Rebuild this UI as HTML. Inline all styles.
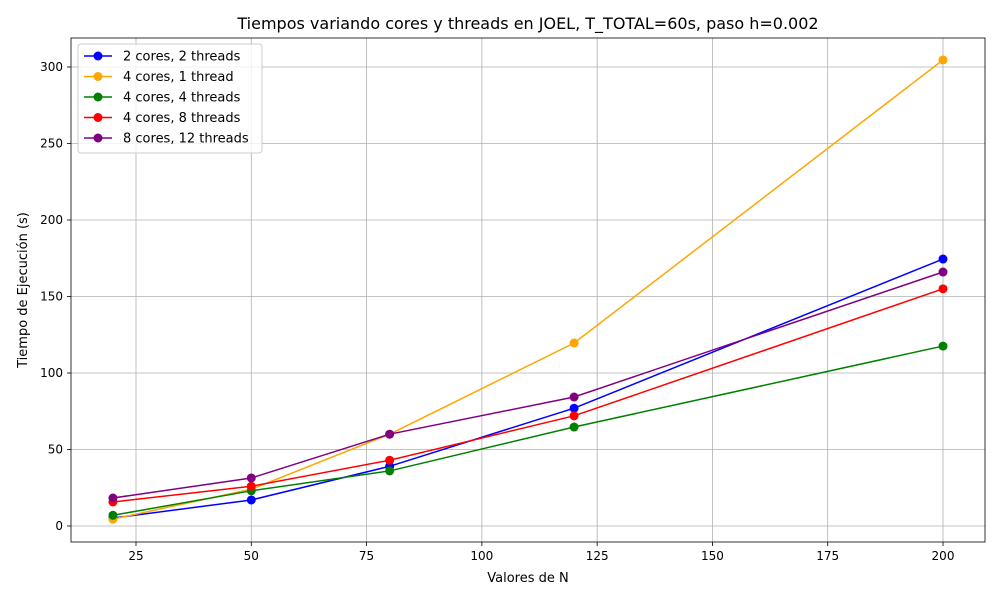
<!DOCTYPE html>
<html><head><meta charset="utf-8"><style>
body{margin:0;background:#fff;font-family:"Liberation Sans","DejaVu Sans",sans-serif;}
svg text{font-family:"DejaVu Sans","Liberation Sans",sans-serif;}
</style></head><body>
<svg id="chart" width="1000" height="600" xmlns="http://www.w3.org/2000/svg"></svg>
<script>
const categories=[20,50,80,120,200];
const seriesNames=["2 cores, 2 threads","4 cores, 1 thread","4 cores, 4 threads","4 cores, 8 threads","8 cores, 12 threads"];
const seriesColors=["blue","orange","green","red","purple"];
const s2c2t=[5.2,17,39,77,174.5];
const s4c1t=[4.5,24,60,119.6,304.6];
const s4c4t=[7,23,36,64.7,117.6];
const s4c8t=[15.7,26,43,72,155];
const s8c12t=[18.3,31.4,60,84.3,166];
const seriesValues=[s2c2t,s4c1t,s4c4t,s4c8t,s8c12t];
const xTicks=[25,50,75,100,125,150,175,200];
const yTicks=[0,50,100,150,200,250,300];

const NS="http://www.w3.org/2000/svg";
const svg=document.getElementById('chart');
const L=71,R=985,T=38,B=542;
const xs=v=>136+(v-25)*(943-136)/175;
const ys=v=>526-v*(526-67)/300;
function el(tag,attrs,parent){const e=document.createElementNS(NS,tag);for(const k in attrs)e.setAttribute(k,attrs[k]);(parent||svg).appendChild(e);return e;}

const grid=el('g',{});


xTicks.forEach(t=>{
  el('line',{x1:xs(t),x2:xs(t),y1:T,y2:B,stroke:'#b0b0b0','stroke-width':0.8},grid);
  el('line',{x1:xs(t),x2:xs(t),y1:B,y2:B+4,stroke:'#000','stroke-width':0.8});
  const tx=el('text',{x:xs(t),y:B+18,'text-anchor':'middle','font-size':12,fill:'#000'});
  
  
  tx.textContent=t;
});
yTicks.forEach(t=>{
  el('line',{x1:L,x2:R,y1:ys(t),y2:ys(t),stroke:'#b0b0b0','stroke-width':0.8},grid);
  el('line',{x1:L-4,x2:L,y1:ys(t),y2:ys(t),stroke:'#000','stroke-width':0.8});
  const tx=el('text',{x:L-8,y:ys(t)+4,'text-anchor':'end','font-size':12,fill:'#000'});
  
  
  tx.textContent=t;
});

seriesValues.forEach((vals,i)=>{
  const g=el('g',{});
  
  
  const pts=categories.map((c,j)=>xs(c)+','+ys(vals[j])).join(' ');
  el('polyline',{points:pts,fill:'none',stroke:seriesColors[i],'stroke-width':1.5},g);
  categories.forEach((c,j)=>{
    const p=el('circle',{cx:xs(c),cy:ys(vals[j]),r:4.5,fill:seriesColors[i]},g);
    
    
  });
});

const frame=el('rect',{x:L,y:T,width:R-L,height:B-T,fill:'none',stroke:'#000','stroke-width':0.8});



const title=el('text',{x:(L+R)/2,y:29,'text-anchor':'middle','font-size':16,fill:'#000'});


title.textContent='Tiempos variando cores y threads en JOEL, T_TOTAL=60s, paso h=0.002';
const xl=el('text',{x:(L+R)/2,y:582,'text-anchor':'middle','font-size':13,fill:'#000'});


xl.textContent='Valores de N';
const yl=el('text',{x:27,y:(T+B)/2,'text-anchor':'middle','font-size':13,fill:'#000',transform:'rotate(-90 27 '+((T+B)/2)+')'});


yl.textContent='Tiempo de Ejecución (s)';

const lg=el('g',{});


el('rect',{x:78,y:44,width:184,height:109,rx:3,fill:'#fff','fill-opacity':0.8,stroke:'#ccc'},lg);
seriesNames.forEach((n,i)=>{
  const y=56+i*20.5;
  const e=el('g',{},lg);
  
  
  el('line',{x1:84,x2:112,y1:y,y2:y,stroke:seriesColors[i],'stroke-width':1.5},e);
  el('circle',{cx:98,cy:y,r:4.5,fill:seriesColors[i]},e);
  const t=el('text',{x:123,y:y+4.5,'font-size':13,fill:'#000'},e);
  t.textContent=n;
});
</script>
</body></html>
